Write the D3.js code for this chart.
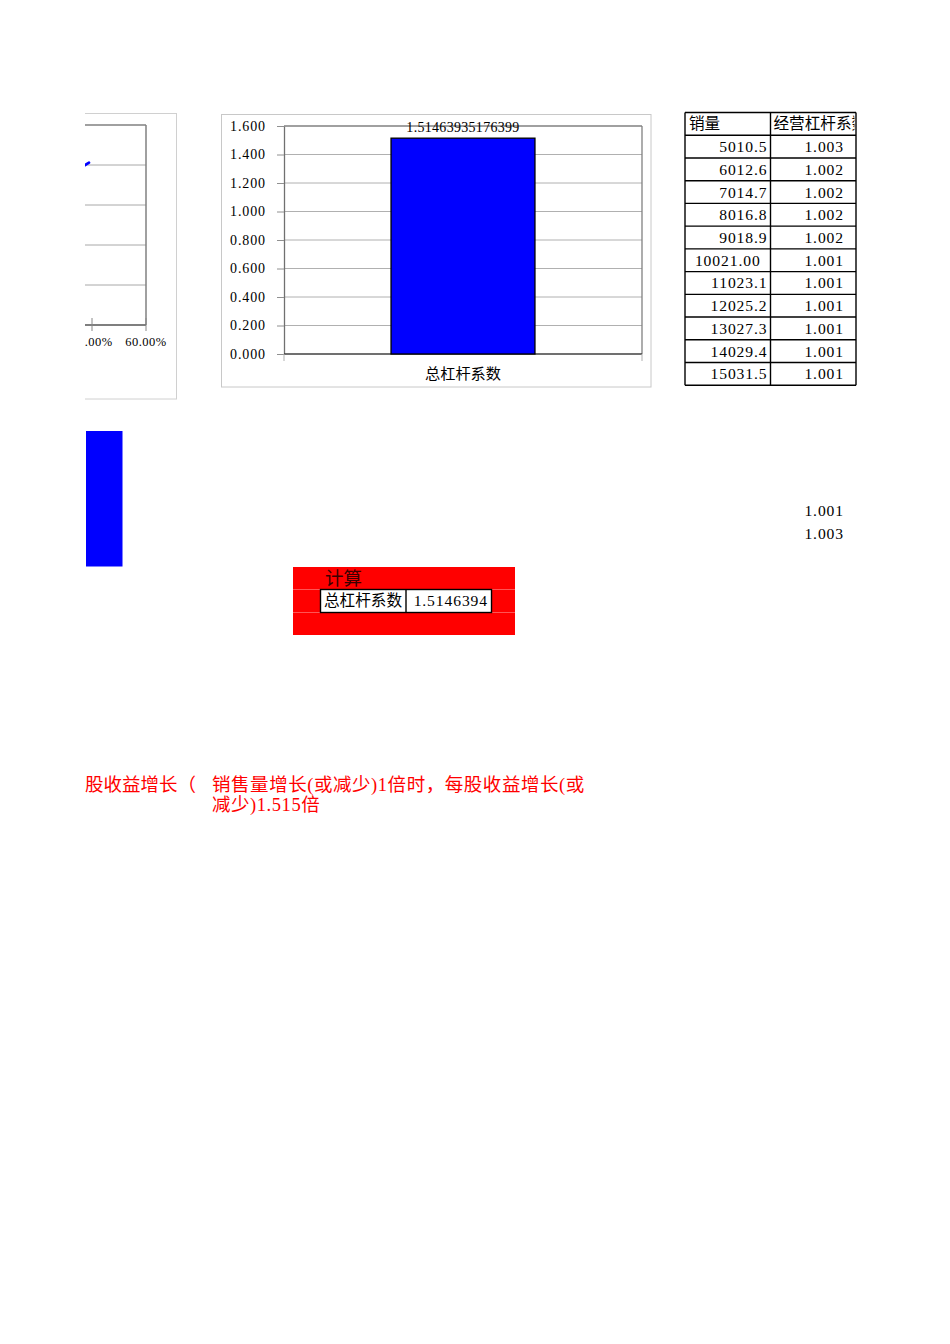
<!DOCTYPE html>
<html><head><meta charset="utf-8">
<script src="https://cdn.jsdelivr.net/npm/d3@7"></script>
<style>
body{margin:0;background:#fff}
svg{display:block}
text{font-family:"Liberation Serif","Noto Sans CJK SC",serif;fill:#000}
.num{letter-spacing:0.9px}
</style>
</head><body>
<svg id="c" width="950" height="1344"></svg>
<script>
// ---------- data ----------
const barCategories = ["总杠杆系数"];
const barValues = [1.51463935176399];
const barTicks = [0, 0.2, 0.4, 0.6, 0.8, 1.0, 1.2, 1.4, 1.6];

const tableHeaders = ["销量", "经营杠杆系数"];
const salesVolumes = [5010.5, 6012.6, 7014.7, 8016.8, 9018.9, 10021.00, 11023.1, 12025.2, 13027.3, 14029.4, 15031.5];
const dolValues = [1.003, 1.002, 1.002, 1.002, 1.002, 1.001, 1.001, 1.001, 1.001, 1.001, 1.001];

const lineX = [0.37, 0.389];
const lineY = [3.98, 4.06];
const lineXTicks = [0.4, 0.6];
const lineYTicks = [0, 1, 2, 3, 4, 5];

const sideBarValues = [1.515];
const sideValues = [1.001, 1.003];

const calcTitle = "计算";
const calcLabel = "总杠杆系数";
const calcValue = 1.5146394;

const noteLeft = "股收益增长（";
const noteLines = ["销售量增长(或减少)1倍时，每股收益增长(或", "减少)1.515倍"];

// ---------- drawing ----------
const svg = d3.select("#c");
svg.append("rect").attr("width", 950).attr("height", 1344).attr("fill", "#fff");

const defs = svg.append("defs");
defs.append("clipPath").attr("id", "pageClip")
  .append("rect").attr("x", 85).attr("y", 0).attr("width", 865).attr("height", 1344);

const page = svg.append("g").attr("clip-path", "url(#pageClip)");

// ===== left partial line chart =====
{
  const g = page.append("g");
  g.append("rect").attr("x", 40).attr("y", 113.5).attr("width", 136.5).attr("height", 285.5)
    .attr("fill", "none").attr("stroke", "#d0d0d0").attr("stroke-width", 1);
  const x = d3.scaleLinear().domain([0.4, 0.6]).range([92, 146]);
  const y = d3.scaleLinear().domain([0, 5]).range([325, 125]);
  g.selectAll("line.grid").data(lineYTicks.filter(d => d > 0 && d < 5)).join("line")
    .attr("x1", 40).attr("x2", x(0.6)).attr("y1", d => y(d)).attr("y2", d => y(d))
    .attr("stroke", "#a8a8a8").attr("stroke-width", 1);
  g.append("line").attr("x1", 40).attr("x2", x(0.6)).attr("y1", y(5)).attr("y2", y(5))
    .attr("stroke", "#808080").attr("stroke-width", 1.5);
  g.append("line").attr("x1", x(0.6)).attr("x2", x(0.6)).attr("y1", y(5)).attr("y2", y(0))
    .attr("stroke", "#808080").attr("stroke-width", 1.5);
  g.append("line").attr("x1", 40).attr("x2", x(0.6)).attr("y1", y(0)).attr("y2", y(0))
    .attr("stroke", "#555").attr("stroke-width", 1.5);
  g.selectAll("line.xt").data(lineXTicks).join("line")
    .attr("x1", d => x(d)).attr("x2", d => x(d)).attr("y1", y(0) - 7).attr("y2", y(0) + 6)
    .attr("stroke", "#888").attr("stroke-width", 1);
  g.selectAll("text.xl").data(lineXTicks).join("text")
    .attr("class", "num")
    .attr("x", d => x(d)).attr("y", 342).attr("dy", "0.35em").attr("text-anchor", "middle")
    .style("font-size", "12.5px").style("letter-spacing", "0.5px").text(d => d3.format(".2%")(d));
  const line = d3.line().x((d, i) => x(lineX[i])).y((d, i) => y(lineY[i]));
  g.append("path").datum(lineY).attr("d", line).attr("fill", "none")
    .attr("stroke", "#0000ff").attr("stroke-width", 2.6).attr("stroke-linecap", "round");
}

// ===== main bar chart =====
{
  const g = svg.append("g");
  g.append("rect").attr("x", 221.5).attr("y", 114.5).attr("width", 429.5).attr("height", 272.5)
    .attr("fill", "#fff").attr("stroke", "#c8c8c8").attr("stroke-width", 1);
  const x = d3.scaleBand().domain(barCategories).range([284, 642]).padding(0.4265);
  const y = d3.scaleLinear().domain([0, 1.6]).range([354, 126]);
  g.selectAll("line.grid").data(barTicks.filter(d => d > 0 && d < 1.6)).join("line")
    .attr("x1", 284).attr("x2", 642).attr("y1", d => y(d)).attr("y2", d => y(d))
    .attr("stroke", "#b0b0b0").attr("stroke-width", 1);
  g.append("line").attr("x1", 284).attr("x2", 642).attr("y1", y(1.6)).attr("y2", y(1.6))
    .attr("stroke", "#808080").attr("stroke-width", 1.3);
  g.append("line").attr("x1", 642).attr("x2", 642).attr("y1", y(1.6)).attr("y2", y(0))
    .attr("stroke", "#808080").attr("stroke-width", 1.3);
  const ya = g.append("g").attr("transform", "translate(284,0)")
    .call(d3.axisLeft(y).tickValues(barTicks).tickFormat(d3.format(".3f"))
      .tickSizeInner(7).tickSizeOuter(0).tickPadding(11));
  ya.select(".domain").attr("stroke", "#707070").attr("stroke-width", 1.3);
  ya.selectAll(".tick line").attr("stroke", "#909090");
  ya.selectAll(".tick text").attr("class", "num").style("font-size", "14px")
    .style("font-family", '"Liberation Serif",serif').attr("fill", "#000");
  g.append("line").attr("x1", 284).attr("x2", 642).attr("y1", y(0)).attr("y2", y(0))
    .attr("stroke", "#404040").attr("stroke-width", 1.3);
  g.selectAll("line.xt").data([284, 642]).join("line")
    .attr("x1", d => d).attr("x2", d => d).attr("y1", y(0)).attr("y2", y(0) + 7)
    .attr("stroke", "#b0b0b0").attr("stroke-width", 1);
  g.selectAll("rect.bar").data(barValues).join("rect")
    .attr("x", (d, i) => x(barCategories[i])).attr("width", x.bandwidth())
    .attr("y", d => y(d)).attr("height", d => y(0) - y(d))
    .attr("fill", "#0000ff").attr("stroke", "#000").attr("stroke-width", 1.3);
  g.selectAll("text.vl").data(barValues).join("text")
    .attr("x", (d, i) => x(barCategories[i]) + x.bandwidth() / 2).attr("y", 127).attr("dy", "0.35em")
    .attr("text-anchor", "middle").style("font-size", "14px").style("letter-spacing", "0.3px")
    .text(d => String(d));
  g.selectAll("text.cl").data(barCategories).join("text")
    .attr("x", d => x(d) + x.bandwidth() / 2).attr("y", 374).attr("dy", "0.35em")
    .attr("text-anchor", "middle").style("font-size", "15.2px").text(d => d);
}

// ===== data table =====
{
  const g = svg.append("g");
  const colX = [685, 770.5, 856];
  const top = 112.5, rh = 22.73;
  const nRows = salesVolumes.length + 1;
  defs.append("clipPath").attr("id", "hdrClip")
    .append("rect").attr("x", colX[1]).attr("y", top).attr("width", 84).attr("height", rh);
  g.append("text").attr("x", colX[0] + 4).attr("y", top + rh / 2).attr("dy", "0.35em")
    .style("font-size", "15.6px").text(tableHeaders[0]);
  g.append("text").attr("x", colX[1] + 3).attr("y", top + rh / 2).attr("dy", "0.35em")
    .attr("clip-path", "url(#hdrClip)").style("font-size", "15.6px").text(tableHeaders[1]);
  salesVolumes.forEach((v, i) => {
    const cy = top + rh * (i + 1) + rh / 2;
    const isInt = Number.isInteger(v);
    g.append("text").attr("class", "num")
      .attr("x", isInt ? (colX[0] + colX[1]) / 2 : colX[1] - 3)
      .attr("text-anchor", isInt ? "middle" : "end")
      .attr("y", cy).attr("dy", "0.35em").style("font-size", "15.6px")
      .text(isInt ? v.toFixed(2) : v.toFixed(1));
    g.append("text").attr("class", "num").attr("x", 844).attr("text-anchor", "end")
      .attr("y", cy).attr("dy", "0.35em").style("font-size", "15.6px")
      .text(d3.format(".3f")(dolValues[i]));
  });
  for (let r = 0; r <= nRows; r++) {
    g.append("line").attr("x1", colX[0]).attr("x2", colX[2])
      .attr("y1", top + rh * r).attr("y2", top + rh * r)
      .attr("stroke", "#000").attr("stroke-width", 1.4);
  }
  colX.forEach(cx => g.append("line").attr("x1", cx).attr("x2", cx)
    .attr("y1", top).attr("y2", top + rh * nRows).attr("stroke", "#000").attr("stroke-width", 1.4));
}

// ===== left clipped blue bar =====
{
  const y = d3.scaleLinear().domain([0, sideBarValues[0]]).range([566.5, 431]);
  page.selectAll("rect.sb").data(sideBarValues).join("rect")
    .attr("x", 86).attr("width", 36.5).attr("y", d => y(d)).attr("height", d => y(0) - y(d))
    .attr("fill", "#0000ff");
}

// ===== side values =====
svg.selectAll("text.sv").data(sideValues).join("text")
  .attr("class", "num")
  .attr("x", 844).attr("y", (d, i) => 511 + i * 22.7).attr("dy", "0.35em")
  .attr("text-anchor", "end").style("font-size", "15.6px").text(d => d3.format(".3f")(d));

// ===== red calc box =====
{
  const g = svg.append("g");
  g.append("rect").attr("x", 293).attr("y", 567).attr("width", 222).attr("height", 68).attr("fill", "#ff0000");
  [589.5, 612.5].forEach(yy => g.append("line").attr("x1", 293).attr("x2", 515)
    .attr("y1", yy).attr("y2", yy).attr("stroke", "#ff6a6a").attr("stroke-width", 0.8));
  g.append("text").attr("x", 325).attr("y", 578.5).attr("dy", "0.35em")
    .style("font-size", "18.5px").style("fill", "#3a0000").text(calcTitle);
  g.append("rect").attr("x", 320.5).attr("y", 589.5).attr("width", 171).attr("height", 23)
    .attr("fill", "#fff").attr("stroke", "#000").attr("stroke-width", 1.4);
  g.append("line").attr("x1", 406).attr("x2", 406).attr("y1", 589.5).attr("y2", 612.5)
    .attr("stroke", "#000").attr("stroke-width", 1.4);
  g.append("text").attr("x", 324).attr("y", 601).attr("dy", "0.35em")
    .style("font-size", "15.6px").text(calcLabel);
  g.append("text").attr("class", "num").attr("x", 488).attr("y", 601).attr("dy", "0.35em").attr("text-anchor", "end")
    .style("font-size", "15.6px").text(d3.format(".7f")(calcValue));
}

// ===== red note =====
{
  page.append("text").attr("x", 85).attr("y", 785).attr("dy", "0.35em")
    .style("font-size", "18.5px").style("fill", "#ff0000").text(noteLeft);
  svg.selectAll("text.note").data(noteLines).join("text")
    .attr("x", 212).attr("y", (d, i) => 785 + i * 20).attr("dy", "0.35em")
    .style("font-size", "18.5px").style("letter-spacing", "0.55px").style("fill", "#ff0000").text(d => d);
}
</script>
</body></html>
